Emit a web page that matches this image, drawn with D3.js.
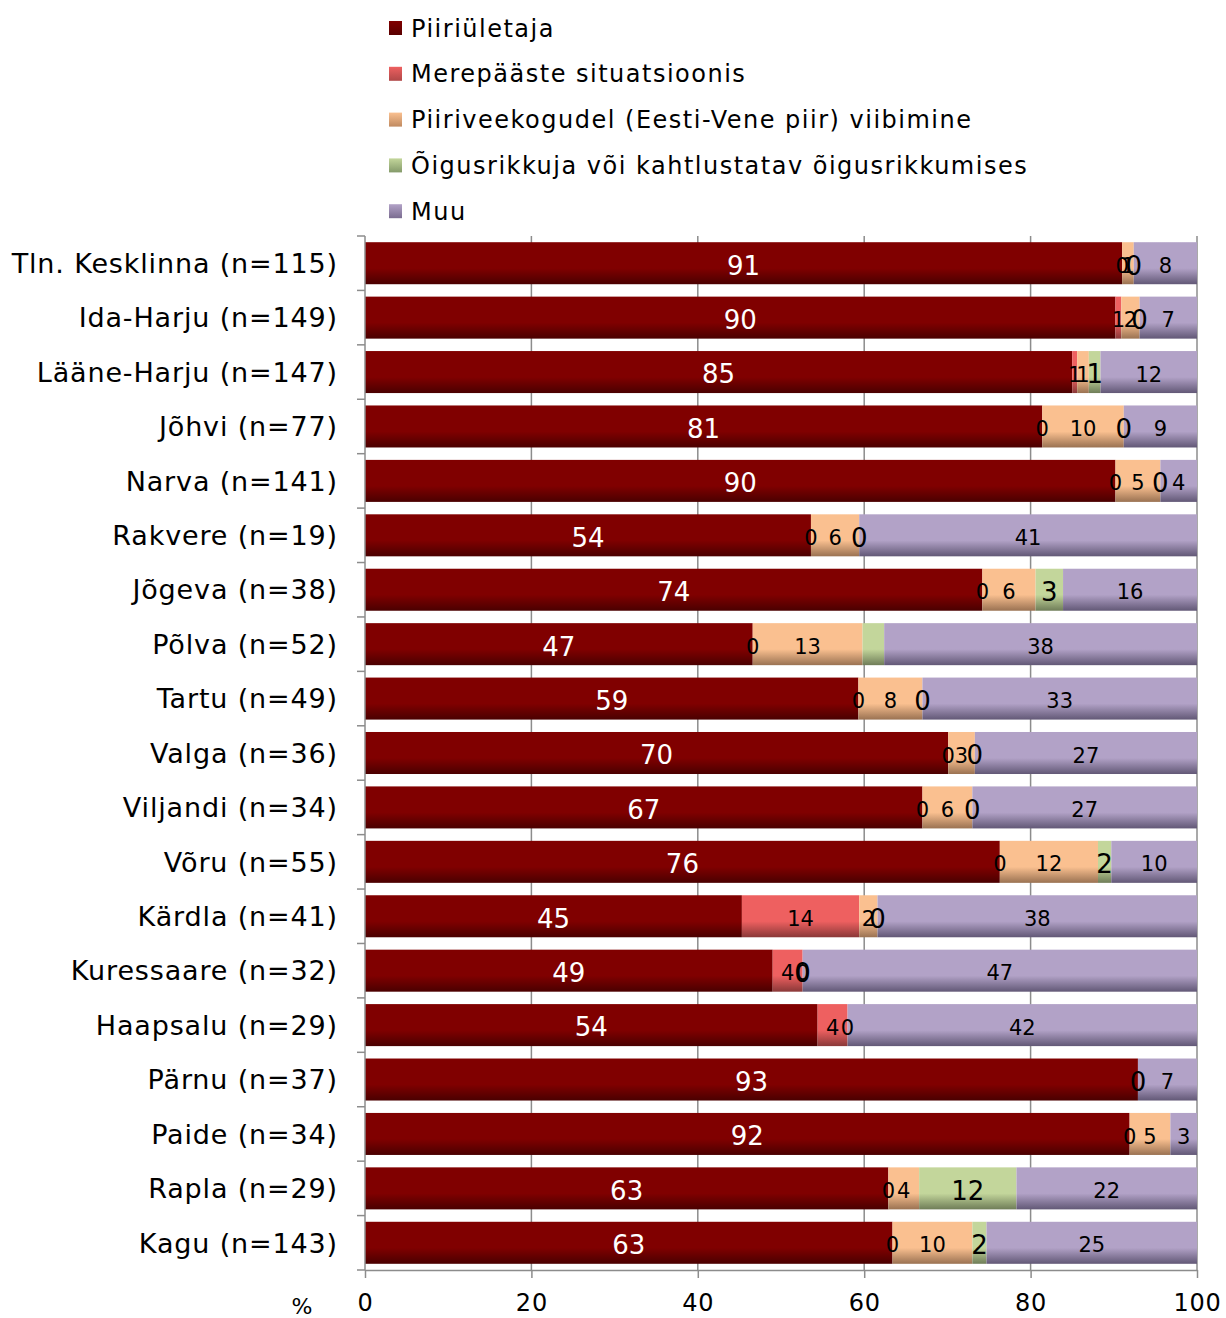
<!DOCTYPE html>
<html><head><meta charset="utf-8">
<script src="https://cdn.jsdelivr.net/npm/d3@7"></script>
<style>
body{margin:0;background:#fff;}
svg{display:block;font-family:"DejaVu Sans",Verdana,sans-serif;}
</style></head>
<body><svg id="c" width="1226" height="1318"></svg>
<script>
const categories = ["Tln. Kesklinna (n=115)","Ida-Harju (n=149)","Lääne-Harju (n=147)","Jõhvi (n=77)","Narva (n=141)","Rakvere (n=19)","Jõgeva (n=38)","Põlva (n=52)","Tartu (n=49)","Valga (n=36)","Viljandi (n=34)","Võru (n=55)","Kärdla (n=41)","Kuressaare (n=32)","Haapsalu (n=29)","Pärnu (n=37)","Paide (n=34)","Rapla (n=29)","Kagu (n=143)"];
const seriesNames = ["Piiriületaja","Merepääste situatsioonis","Piiriveekogudel (Eesti-Vene piir) viibimine","Õigusrikkuja või kahtlustatav õigusrikkumises","Muu"];
// null = no value (no segment, no label)
const piiriuletaja    = [91.0, 90.2, 85.0, 81.4, 90.2, 53.6, 74.2, 46.6, 59.3, 70.1, 67.0, 76.3, 45.3, 49.0, 54.4, 92.9, 91.9, 62.9, 63.4];
const merepaaste      = [0, 0.7, 0.6, 0, 0, 0, 0, 0, 0, 0, 0, 0, 14.1, 3.6, 3.6, null, 0, 0, 0];
const piiriveekogudel = [1.4, 2.2, 1.4, 9.8, 5.4, 5.8, 6.4, 13.2, 7.7, 3.2, 6.0, 11.8, 2.2, 0, 0, null, 4.9, 3.7, 9.6];
const oigusrikkuja    = [0, 0, 1.4, 0, 0, 0, 3.3, 2.6, 0, 0, 0, 1.6, 0, 0, null, 0, null, 11.7, 1.7];
const muu             = [7.6, 6.9, 11.6, 8.8, 4.4, 40.6, 16.1, 37.6, 33.0, 26.7, 27.0, 10.3, 38.4, 47.4, 42.0, 7.1, 3.2, 21.7, 25.3];
const hiddenLabels = [["Põlva (n=52)", 3]]; // [category, series index] whose label is not shown
const xTicks = [0, 20, 40, 60, 80, 100];

const seriesValues = [piiriuletaja, merepaaste, piiriveekogudel, oigusrikkuja, muu];
const baseColors = ["#800000", "#EE6060", "#FAC090", "#C3D69B", "#B2A2C7"];
const darkColors = ["#4a0000", "#8a3838", "#9a7252", "#6f7d58", "#625876"];
const legendDark = ["#5a0000", "#b04848", "#c08a60", "#849a6a", "#7a6c90"];

const svg = d3.select("#c");
const defs = svg.append("defs");
baseColors.forEach((c, i) => {
  const g = defs.append("linearGradient").attr("id", "g" + i).attr("x1", 0).attr("y1", 0).attr("x2", 0).attr("y2", 1);
  g.append("stop").attr("offset", "0").attr("stop-color", c);
  g.append("stop").attr("offset", "0.62").attr("stop-color", c);
  g.append("stop").attr("offset", "1").attr("stop-color", darkColors[i]);
  const l = defs.append("linearGradient").attr("id", "lg" + i).attr("x1", 0).attr("y1", 0).attr("x2", 0).attr("y2", 1);
  l.append("stop").attr("offset", "0").attr("stop-color", c);
  l.append("stop").attr("offset", "1").attr("stop-color", legendDark[i]);
});

const x = d3.scaleLinear().domain([0, 100]).range([365, 1197]);
const y = d3.scaleBand().domain(categories).range([236, 1270]).paddingInner(0.228).paddingOuter(0.114);
const step = y.step();

// gridlines
svg.append("g").selectAll("line").data(xTicks.filter(d => d > 0)).join("line")
  .attr("x1", d => x(d)).attr("x2", d => x(d)).attr("y1", 236).attr("y2", 1270)
  .attr("stroke", "#8c8c8c").attr("stroke-width", 1.5);

// stacked data
const rows = categories.map((c, i) => {
  let acc = 0;
  return seriesValues.map((arr, s) => {
    const v = arr[i];
    const x0 = acc;
    if (v != null) acc += v;
    return {cat: c, s, v, x0, x1: acc};
  });
});
const segs = rows.flat();

svg.append("g").selectAll("rect").data(segs.filter(d => d.v != null && d.v > 0)).join("rect")
  .attr("x", d => x(d.x0)).attr("y", d => y(d.cat))
  .attr("width", d => x(d.x1) - x(d.x0)).attr("height", y.bandwidth())
  .attr("fill", d => "url(#g" + d.s + ")");

// y axis line and ticks
svg.append("line").attr("x1", 365).attr("x2", 365).attr("y1", 236).attr("y2", 1270).attr("stroke", "#8c8c8c").attr("stroke-width", 1.5);
const bounds = categories.map(c => y(c) - y.paddingInner() * step / 2).concat([1270]);
svg.append("g").selectAll("line").data(bounds).join("line")
  .attr("x1", 357).attr("x2", 365).attr("y1", d => d).attr("y2", d => d)
  .attr("stroke", "#8c8c8c").attr("stroke-width", 1.5);

// x axis
const xAxis = svg.append("g").attr("transform", "translate(0,1270)")
  .call(d3.axisBottom(x).tickValues(xTicks).tickSize(8).tickSizeOuter(0).tickPadding(16));
xAxis.select(".domain").attr("stroke", "#8c8c8c").attr("stroke-width", 1.5);
xAxis.selectAll(".tick line").attr("stroke", "#8c8c8c").attr("stroke-width", 1.5);
xAxis.selectAll(".tick text").attr("font-size", 24).attr("fill", "#000")
  .attr("font-family", "DejaVu Sans, Verdana, sans-serif").attr("letter-spacing", 0.8);
svg.append("text").attr("x", 302).attr("y", 1314).attr("text-anchor", "middle")
  .attr("font-size", 22).text("%");

// category labels
svg.append("g").selectAll("text").data(categories).join("text")
  .attr("x", 338).attr("y", d => y(d) + y.bandwidth() / 2)
  .attr("dy", "0.36em").attr("text-anchor", "end").attr("font-size", 27).attr("letter-spacing", 0.85)
  .text(d => d);

// data labels
const isHidden = d => hiddenLabels.some(h => h[0] === d.cat && h[1] === d.s);
svg.append("g").selectAll("text").data(segs.filter(d => d.v != null && !isHidden(d))).join("text")
  .attr("x", d => x((d.x0 + d.x1) / 2))
  .attr("y", d => y(d.cat) + y.bandwidth() / 2 + 2)
  .attr("dy", "0.36em").attr("text-anchor", "middle")
  .attr("font-size", d => (d.s === 0 || d.s === 3) ? 26 : 21)
  .attr("fill", d => d.s === 0 ? "#fff" : "#000")
  .text(d => Math.round(d.v));

// legend
const lg = svg.append("g").selectAll("g").data(seriesNames).join("g")
  .attr("transform", (d, i) => `translate(389,${28 + i * 45.8})`);
lg.append("rect").attr("x", 0).attr("y", -7).attr("width", 13).attr("height", 14)
  .attr("fill", (d, i) => "url(#lg" + i + ")");
lg.append("text").attr("x", 22).attr("y", 0).attr("dy", "0.36em")
  .attr("font-size", 24).attr("letter-spacing", 1.5).text(d => d);
</script>
</body></html>
